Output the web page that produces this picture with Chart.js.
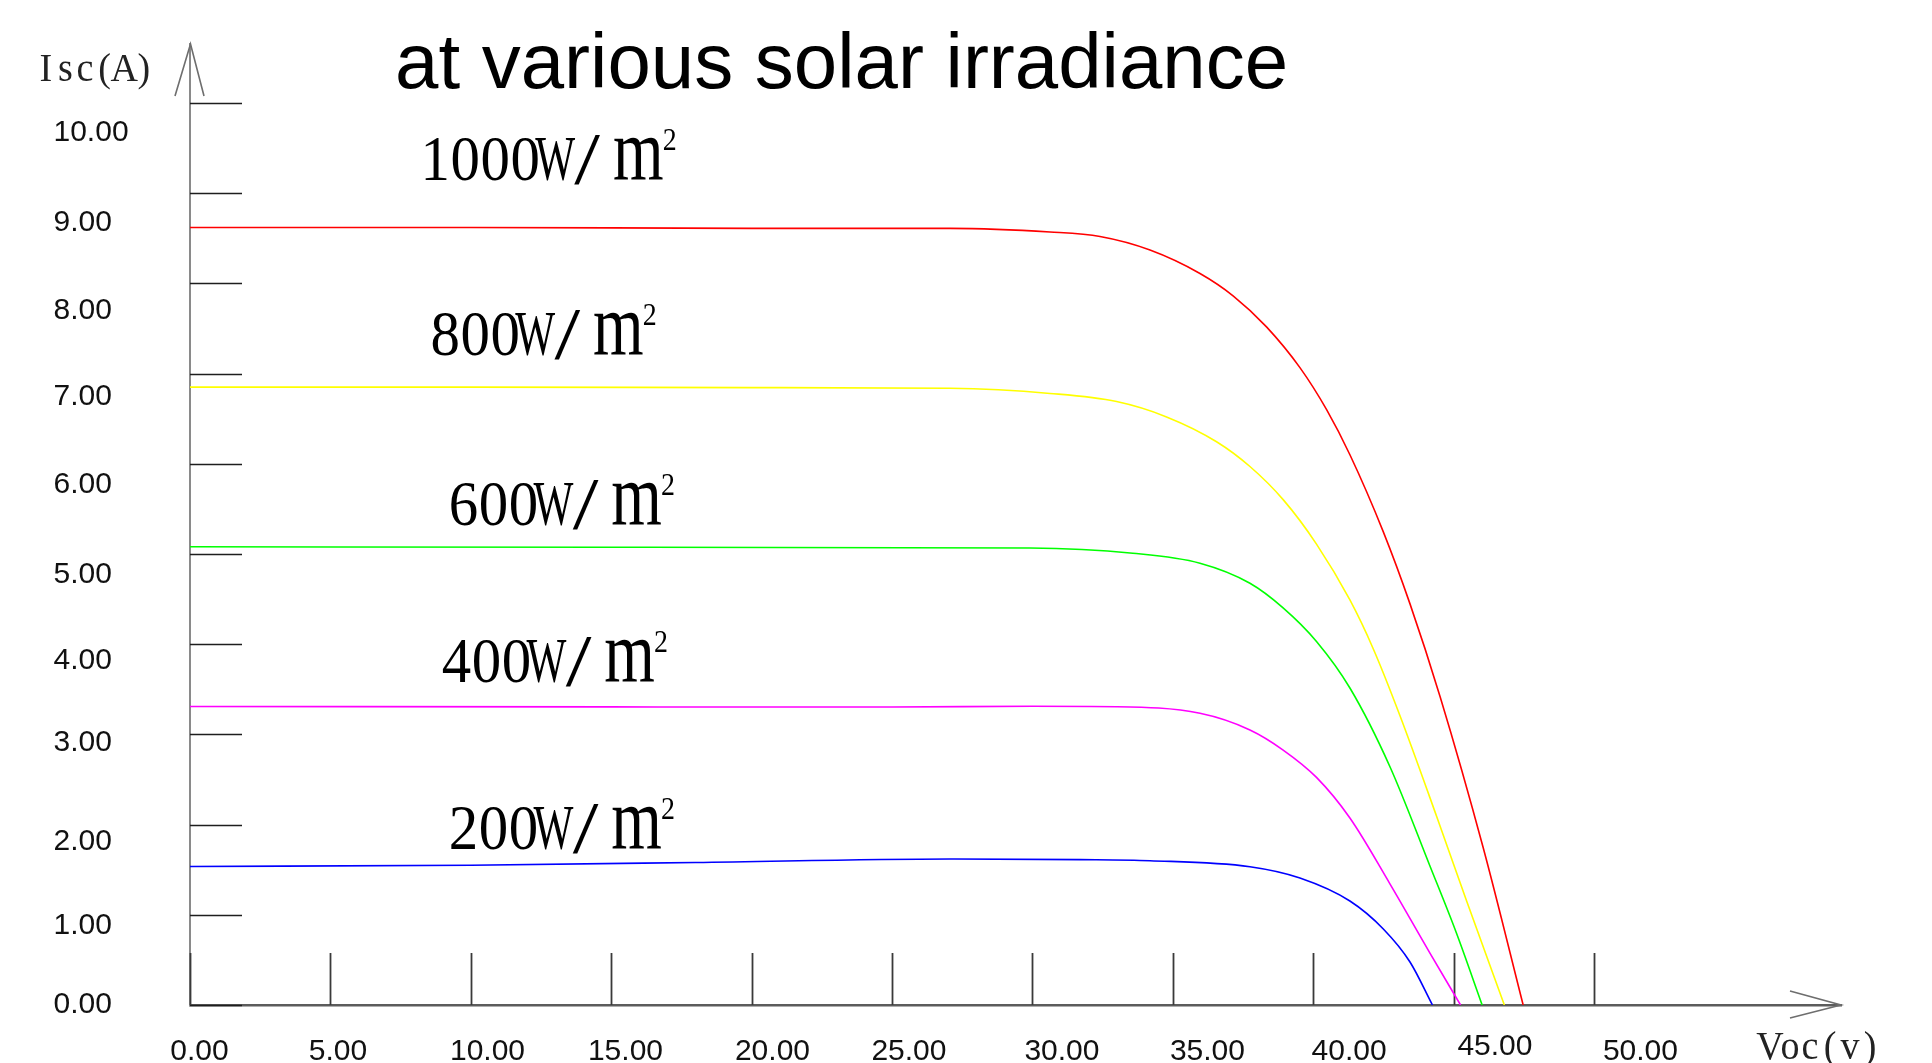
<!DOCTYPE html>
<html>
<head>
<meta charset="utf-8">
<title>I-V curves at various solar irradiance</title>
<script src="https://cdn.jsdelivr.net/npm/chart.js@4.4.1/dist/chart.umd.min.js"></script>
<style>
  html, body { margin: 0; padding: 0; background: #ffffff; }
  #wrap { width: 1932px; height: 1063px; }
  canvas { display: block; }
</style>
</head>
<body>
<div id="wrap"><canvas id="iv" width="1932" height="1063"></canvas></div>
<script>
// ---- text ----
const chartTitle = 'at various solar irradiance';
const yAxisTitle = 'Isc(A)';
const xAxisTitle = 'Voc(v)';
const seriesLabels = ['1000W/m²', '800W/m²', '600W/m²', '400W/m²', '200W/m²'];

// ---- tick values ----
const xTickValues = [0, 5, 10, 15, 20, 25, 30, 35, 40, 45, 50];
const yTickValues = [0, 1, 2, 3, 4, 5, 6, 7, 8, 9, 10];

// ---- I-V data: voltage (V) and current (A) per irradiance ----
const volt1000 = [0, 10, 20, 27.07, 30.63, 32.41, 34.19, 35.97, 37.16, 38.34, 39.53, 40.48, 41.31, 42.50, 43.45, 44.52, 46.06, 47.48];
const amp1000  = [8.62, 8.62, 8.61, 8.61, 8.57, 8.52, 8.37, 8.11, 7.86, 7.518, 7.066, 6.60, 6.10, 5.245, 4.447, 3.42, 1.74, 0];

const volt800 = [0, 10, 20, 27.07, 30.63, 33.0, 34.78, 36.56, 37.75, 38.94, 40.12, 41.31, 42.14, 43.09, 44.40, 45.47, 46.81];
const amp800  = [6.85, 6.85, 6.845, 6.837, 6.78, 6.69, 6.52, 6.245, 5.97, 5.60, 5.11, 4.49, 3.95, 3.21, 2.09, 1.15, 0];

const volt600 = [0, 15, 29.91, 33.58, 35.97, 37.75, 38.92, 40.12, 41.31, 42.74, 44.16, 45.09, 46.02];
const amp600  = [5.08, 5.075, 5.067, 5.008, 4.897, 4.675, 4.405, 4.03, 3.514, 2.639, 1.541, 0.809, 0];

const volt400 = [0, 15, 25, 30, 33.0, 35.97, 37.75, 38.92, 40.12, 41.31, 42.74, 44.16, 45.25];
const amp400  = [3.31, 3.305, 3.303, 3.312, 3.307, 3.234, 3.049, 2.829, 2.523, 2.073, 1.341, 0.576, 0];

const volt200 = [0, 10, 18, 27.07, 31.7, 34.19, 37.75, 39.53, 41.31, 42.50, 43.45, 44.25];
const amp200  = [1.535, 1.55, 1.58, 1.619, 1.612, 1.600, 1.533, 1.408, 1.153, 0.843, 0.477, 0];

// ---- styling / layout ----
const seriesColors = ['#ff0000', '#ffff00', '#00ff00', '#ff00ff', '#0000ff'];
// where each irradiance caption sits (volts, amps of its baseline-left corner)
const captionAnchors = [[8.25, 9.146], [8.61, 7.206], [9.26, 5.322], [9.01, 3.581], [9.26, 1.729]];
// hand-placed tick label nudges (px)
const yLabelNudge = [-3, 8, 14.4, 6.1, 14.3, 17.8, 18, 20.7, 24.9, 27.3, 27.6];
const xLabelNudge = [9.5, 7.6, 16.7, 14.3, 20.9, 17, 29.6, 34.7, 36, 41.4, 46.5];
const xLabelLift  = [0, 0, 0, 0, 0, 0, 0, 0, 0, 5, 0];

const toPoints = (xs, ys) => xs.map((v, i) => ({ x: v, y: ys[i] }));
const seriesData = [
  toPoints(volt1000, amp1000),
  toPoints(volt800, amp800),
  toPoints(volt600, amp600),
  toPoints(volt400, amp400),
  toPoints(volt200, amp200)
];

const SANS = '"Liberation Sans", Arial, sans-serif';
const SERIF = '"Liberation Serif", "Times New Roman", serif';

function drawGlyph(ctx, ch, cx, base, font, sx) {
  ctx.save();
  ctx.font = font;
  ctx.textAlign = 'center';
  ctx.textBaseline = 'alphabetic';
  ctx.translate(cx, base);
  ctx.scale(sx, 1);
  ctx.fillText(ch, 0, 0);
  ctx.restore();
}

// evenly pitched serif text, each character centred in its own cell
function drawPitched(ctx, text, left, base, font, pitch, sx) {
  let i = 0;
  for (const ch of text) {
    drawGlyph(ctx, ch, left + pitch * (i + 0.5), base, font, sx);
    i++;
  }
}

// irradiance caption in a tall, half-width serif style
function drawCaption(ctx, text, left, base) {
  const pitch = 30;
  const cut = text.indexOf('m');
  const prefix = text.slice(0, cut);
  ctx.fillStyle = '#000000';
  let i = 0;
  for (const ch of prefix) {
    const cx = left - 1.5 + pitch * (i + 0.5);
    if (ch === 'W') {
      drawGlyph(ctx, ch, cx, base, '64px ' + SERIF, 0.66);
    } else if (ch === '/') {
      drawGlyph(ctx, ch, cx + 2, base + 4, '74px ' + SERIF, 1.25);
    } else {
      drawGlyph(ctx, ch, cx, base, '64px ' + SERIF, 0.92);
    }
    i++;
  }
  const n = prefix.length;
  drawGlyph(ctx, 'm', left + pitch * n + 36.5, base, '89px ' + SERIF, 0.73);
  drawGlyph(ctx, '2', left + pitch * n + 68, base - 30, '31px ' + SERIF, 0.9);
}

const decorations = {
  id: 'decorations',
  beforeDatasetsDraw(chart) {
    const { ctx, chartArea: area, scales: { x, y } } = chart;
    ctx.save();
    // short tick marks running into the plot from the vertical axis
    ctx.strokeStyle = '#1e1e1e';
    ctx.lineWidth = 1.3;
    yTickValues.forEach(v => {
      const py = Math.round(y.getPixelForValue(v)) + 0.5;
      ctx.beginPath();
      ctx.moveTo(area.left, py);
      ctx.lineTo(area.left + 52, py);
      ctx.stroke();
    });
    // short tick marks rising from the horizontal axis
    ctx.strokeStyle = '#3a3a3a';
    ctx.lineWidth = 1.8;
    xTickValues.forEach(u => {
      const px = Math.round(x.getPixelForValue(u)) + 0.5;
      ctx.beginPath();
      ctx.moveTo(px, area.bottom);
      ctx.lineTo(px, area.bottom - 52);
      ctx.stroke();
    });
    ctx.restore();
  },
  afterDraw(chart) {
    const { ctx, chartArea: area, scales: { x, y } } = chart;
    ctx.save();

    // arrow heads
    ctx.strokeStyle = '#6e6e6e';
    ctx.lineWidth = 1.6;
    const ax = x.getPixelForValue(0);
    const topY = area.top;
    ctx.beginPath();
    ctx.moveTo(ax - 15, topY + 52);
    ctx.lineTo(ax + 0.5, topY);
    ctx.lineTo(ax + 14, topY + 52);
    ctx.stroke();
    const rightX = area.right;
    const by = y.getPixelForValue(0);
    ctx.beginPath();
    ctx.moveTo(rightX - 51, by - 14);
    ctx.lineTo(rightX, by);
    ctx.lineTo(rightX - 51, by + 13);
    ctx.stroke();

    // tick labels
    ctx.fillStyle = '#111111';
    ctx.font = '30px ' + SANS;
    ctx.textBaseline = 'alphabetic';
    ctx.textAlign = 'left';
    yTickValues.forEach((v, i) => {
      const py = y.getPixelForValue(v) + yLabelNudge[i] + 10.75;
      ctx.fillText(v.toFixed(2), 53.5, py);
    });
    ctx.textAlign = 'center';
    xTickValues.forEach((u, i) => {
      const px = x.getPixelForValue(u) + xLabelNudge[i];
      ctx.fillText(u.toFixed(2), px, by + 54.5 - xLabelLift[i]);
    });

    // title
    ctx.fillStyle = '#000000';
    ctx.font = '78px ' + SANS;
    ctx.textAlign = 'left';
    ctx.fillText(chartTitle, 395, 88);

    // axis titles
    ctx.fillStyle = '#222222';
    drawPitched(ctx, yAxisTitle, 36, 81, '40px ' + SERIF, 19.6, 0.95);
    drawPitched(ctx, xAxisTitle, 1760, 1059, '40px ' + SERIF, 20, 0.95);

    // irradiance captions
    seriesLabels.forEach((label, i) => {
      const [cu, cv] = captionAnchors[i];
      drawCaption(ctx, label, x.getPixelForValue(cu), y.getPixelForValue(cv));
    });

    ctx.restore();
  }
};

new Chart(document.getElementById('iv'), {
  type: 'scatter',
  data: {
    datasets: seriesData.map((pts, i) => ({
      label: seriesLabels[i],
      data: pts,
      showLine: true,
      borderColor: seriesColors[i],
      backgroundColor: seriesColors[i],
      borderWidth: 1.6,
      pointRadius: 0,
      pointHoverRadius: 0,
      cubicInterpolationMode: 'monotone',
      fill: false
    }))
  },
  options: {
    responsive: false,
    animation: false,
    devicePixelRatio: 1,
    events: [],
    layout: { padding: { left: 190, top: 44, right: 91, bottom: 58 } },
    plugins: {
      legend: { display: false },
      tooltip: { enabled: false },
      title: { display: false }
    },
    scales: {
      x: {
        type: 'linear',
        min: 0,
        max: 58.8,
        grid: { display: false, drawTicks: false },
        ticks: { display: false },
        border: { display: true, color: '#5c5c5c', width: 2.5 }
      },
      y: {
        type: 'linear',
        min: 0,
        max: 10.654,
        grid: { display: false, drawTicks: false },
        ticks: { display: false },
        border: { display: true, color: '#8a8a8a', width: 2 }
      }
    }
  },
  plugins: [decorations]
});
</script>
</body>
</html>
